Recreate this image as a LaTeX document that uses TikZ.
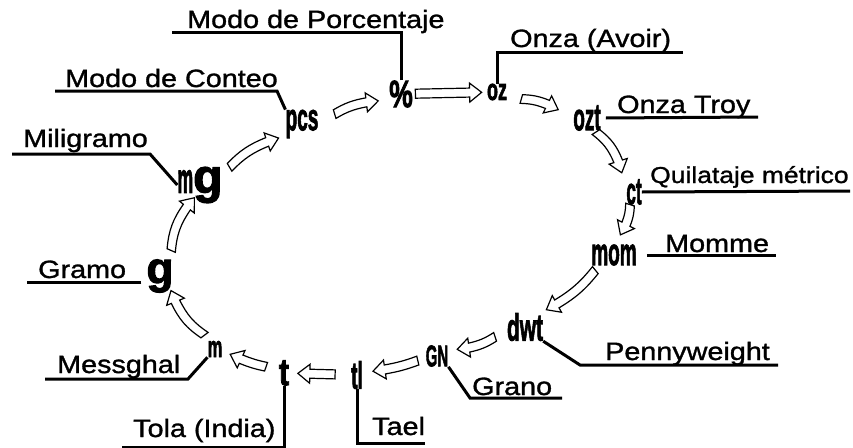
\documentclass[tikz,border=0pt]{standalone}
\usepackage{fontspec}
\usepackage{graphicx}
\setmainfont{Liberation Sans}
\newfontfamily\lblfont[FakeStretch=1.15,FakeBold=1.2]{Liberation Sans}
\newfontfamily\unitfont[FakeBold=2.5]{Liberation Sans Bold}
\usetikzlibrary{calc}
\usetikzlibrary{positioning}
\tikzset{>=latex}
\tikzset{lbl/.style={anchor=base west, inner sep=0pt, font=\lblfont\fontsize{25}{26}\selectfont}}
\tikzset{unit/.style={inner sep=0pt, font=\unitfont}}
\tikzset{lead/.style={line width=3pt}}
\tikzset{harrow/.style={draw=black, fill=white, line width=1.2pt, line join=miter}}
\newcommand{\sym}[3]{\scalebox{#1}[1]{\fontsize{#2}{#2}\selectfont #3}}
\newcommand{\hollowarrow}[5]{%
  \coordinate (hA) at ($(#1)!#3!(#2)$);
  \coordinate (hB) at ($(#1)!#4!(#2)$);
  \coordinate (hC) at ($(hB)!12pt!-#5:(hA)$);
  \draw[harrow] ($(hA)!4.5pt!90:(hB)$) to[bend left=#5] ($(hC)!4.5pt!90:(hB)$) -- ($(hC)!9.5pt!90:(hB)$) -- (hB)
    -- ($(hC)!9.5pt!-90:(hB)$) -- ($(hC)!4.5pt!-90:(hB)$) to[bend right=#5] ($(hA)!4.5pt!-90:(hB)$) -- cycle;}

\begin{document}
\begin{tikzpicture}[x=1pt,y=-1pt]
\useasboundingbox (0,0) rectangle (853,447);
% unit symbols
\node [unit] (pct) at (401,94) {\sym{0.7}{38}{\%}};
\node [unit] (oz) at (497,92) {\sym{0.6}{30}{oz}};
\node [unit] (ozt) at (587,118) {\sym{0.5}{38}{ozt}};
\node [unit] (ct) at (634,192) {\sym{0.45}{38}{ct}};
\node [unit] (mom) at (614,255) {\sym{0.5}{38}{mom}};
\node [unit] (dwt) at (525,327) {\sym{0.55}{38}{dwt}};
\node [unit] (gn) at (437,356) {\sym{0.5}{30}{GN}};
\node [unit] (tl) at (357,375) {\sym{0.5}{38}{tl}};
\node [unit] (t) at (284,373) {\sym{0.8}{38}{t}};
\node [unit] (ms) at (215,349) {\sym{0.55}{30}{m}};
\node [unit] (g) at (160,276) {\fontsize{44}{44}\selectfont g};
\node [unit] (mg) at (200,185) {\sym{0.42}{42}{m}\fontsize{48}{48}\selectfont g};
\node [unit] (pcs) at (302,124) {\sym{0.5}{38}{pcs}};
% labels
\node [lbl] (lpct) at (187,28) {Modo de Porcentaje};
\node [lbl] (lpcs) at (65,87) {Modo de Conteo};
\node [lbl] (lmg) at (23,147) {Miligramo};
\node [lbl] (lg) at (38,278) {Gramo};
\node [lbl] (lms) at (57,373) {Messghal};
\node [lbl] (lt) at (133,437) {Tola (India)};
\node [lbl] (ltl) at (372,435) {Tael};
\node [lbl] (lgn) at (472,395) {Grano};
\node [lbl] (ldwt) at (605,360) {Pennyweight};
\node [lbl] (lmom) at (665,252) {Momme};
\node [lbl, font=\lblfont\fontsize{23}{24}\selectfont] (lct) at (650,183) {Quilataje métrico};
\node [lbl] (lozt) at (617,113) {Onza Troy};
\node [lbl] (loz) at (510,47) {Onza (Avoir)};
% leader lines
\coordinate (epct) at (172,32);
\coordinate (epcs) at (55,91);
\coordinate (emg) at (12,154);
\coordinate (eg) at (27,282);
\coordinate (ems) at (45,379);
\coordinate (et) at (122,447);
\coordinate (etl) at (425,443);
\coordinate (egn) at (562,398);
\coordinate (edwt) at (778,365);
\coordinate (emom) at (776,255);
\coordinate (ect) at (850,191);
\coordinate (eozt) at (758,117);
\coordinate (eoz) at (683,52);
\draw [lead] (pct.north) |- (epct);
\draw [lead] (pcs.north west) -- (277,91) -- (epcs);
\draw [lead] (mg.west) -- (150,154) -- (emg);
\draw [lead] (g.west) ++(-5,6) -- (eg);
\draw [lead] (ms.south west) -- (188,379) -- (ems);
\draw [lead] (t.south) |- (et);
\draw [lead] (tl.south) |- (etl);
\draw [lead] (gn.south east) -- (470,398) -- (egn);
\draw [lead] (dwt.south east) -- (580,365) -- (edwt);
\draw [lead] (mom.east) ++(10,0) -- (emom);
\draw [lead] (ct.east) -- (ect);
\draw [lead] (ozt.east) ++(5,0) -- (eozt);
\draw [lead] (oz.north) |- (eoz);
% hollow arrows round the cycle
\foreach \a/\b/\p/\q/\k in {mg/pcs/0.29/0.77/12, pcs/pct/0.33/0.77/10, pct/oz/0.15/0.84/0, oz/ozt/0.27/0.68/10,
  ozt/ct/0.19/0.74/15, ct/mom/0.2/0.68/10, mom/dwt/0.21/0.76/10, dwt/gn/0.34/0.77/10, gn/tl/0.24/0.8/5,
  tl/t/0.3/0.81/0, t/ms/0.26/0.78/5, ms/g/0.19/0.8/15, g/mg/0.28/0.86/15}
  {\hollowarrow{\a}{\b}{\p}{\q}{\k}}
\end{tikzpicture}
\end{document}
